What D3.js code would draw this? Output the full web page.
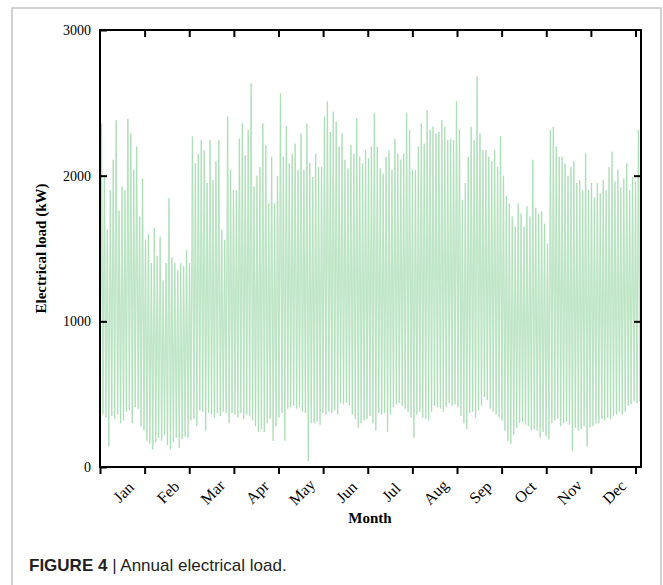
<!DOCTYPE html>
<html>
<head>
<meta charset="utf-8">
<script src="https://cdn.jsdelivr.net/npm/d3@7/dist/d3.min.js"></script>
<style>
  body { margin: 0; background: #fff; }
  svg text { font-family: "Liberation Serif", "Times New Roman", serif; }
</style>
</head>
<body>
<svg id="chart" width="663" height="585"></svg>
<script>
// month names, one per 730 h slot
var months = ["Jan", "Feb", "Mar", "Apr", "May", "Jun", "Jul", "Aug", "Sep", "Oct", "Nov", "Dec"];
var yTicks = [0, 1000, 2000, 3000];

// readings every 2 days (kW): daily peak and night base
var peakLoad = [
  2360, 1990, 1630, 1900, 2110, 2380, 1760, 1925, 1900, 2390, 2290, 2040, 2200, 1720, 1980, 1560,
  1600, 1400, 1640, 1450, 1580, 1280, 1400, 1845, 1440, 1400, 1350, 1400, 1380, 1490, 1400,
  2270, 2085, 2150, 2245, 2175, 1950, 2245, 1970, 2100, 2245, 1630, 1560, 2405, 2040, 1900, 1900,
  2255, 2360, 2140, 2315, 2635, 1925, 2000, 2060, 2360, 2210, 1810, 2130, 1810, 2000, 2565,
  2130, 2340, 2085, 2150, 2220, 2040, 2290, 2040, 2360, 2085, 1990, 2150, 2060, 2060, 2405, 2510,
  2300, 2440, 2370, 2200, 2290, 2110, 2050, 2210, 2150, 2395, 2130, 2085, 2175, 2120, 2200,
  2430, 2200, 2050, 2015, 2130, 2175, 2040, 2255, 2150, 2110, 2150, 2430, 2315, 2040, 2040,
  2200, 2360, 2220, 2450, 2315, 2335, 2290, 2300, 2380, 2335, 2245, 2250, 2245, 2510, 2315,
  1835, 1950, 2130, 2335, 2245, 2680, 2290, 2175, 2175, 2130, 2100, 2175, 2060, 2270, 2000, 1860,
  1810, 1720, 1650, 1810, 1740, 1650, 1790, 1720, 2110, 1780, 1740, 1755, 1670, 1535, 2315,
  2335, 2200, 2130, 2130, 2085, 2000, 2060, 2100, 1950, 1970, 1900, 2155, 1900, 1950, 1850, 1950,
  1880, 1970, 1900, 2060, 2165, 1960, 2040, 1920, 1980, 2085, 1900, 1990, 1960, 2315, 2000
];
var baseLoad = [
  380, 360, 340, 140, 350, 330, 360, 300, 320, 380, 390, 300, 410, 400, 280, 250,
  180, 160, 120, 170, 200, 180, 220, 150, 120, 170, 200, 130, 190, 210, 200,
  320, 330, 280, 390, 380, 250, 370, 360, 340, 370, 350, 380, 370, 300, 370, 360,
  340, 370, 330, 360, 350, 320, 280, 240, 260, 240, 300, 330, 180, 280, 340,
  370, 180, 400, 410, 420, 400, 410, 380, 370, 40, 300, 300, 310, 290, 370, 360,
  380, 370, 390, 360, 440, 430, 440, 420, 360, 330, 270, 300, 320, 330, 350,
  300, 250, 370, 360, 370, 240, 360, 410, 430, 440, 420, 400, 380, 340, 200,
  360, 380, 340, 330, 320, 380, 420, 410, 400, 380, 410, 440, 420, 430, 410,
  350, 300, 260, 370, 380, 340, 390, 420, 480, 460, 400, 380, 360, 340, 320, 250,
  180, 160, 220, 270, 300, 310, 290, 280, 250, 260, 250, 200, 240, 210, 190,
  300, 320, 330, 280, 300, 310, 290, 110, 270, 250, 260, 280, 140, 270, 280, 300,
  300, 330, 320, 340, 330, 350, 360, 380, 360, 380, 420, 430, 450, 440, 450
];

var svg = d3.select("#chart");
var margin = {left: 100, right: 22, top: 30, bottom: 118};
var W = 663, H = 585;

// figure frame
svg.append("rect")
    .attr("x", 12).attr("y", 8)
    .attr("width", 649).attr("height", 620)
    .attr("fill", "none")
    .attr("stroke", "#c4c4c4")
    .attr("stroke-width", 1.5);

var x = d3.scaleLinear().domain([0, 8850]).range([margin.left, W - margin.right]);
var y = d3.scaleLinear().domain([0, 3000]).range([H - margin.bottom, margin.top]);

// zigzag: base -> peak -> base ... one cycle per reading
var pts = [];
peakLoad.forEach(function(p, i) {
  pts.push([i * 48, baseLoad[i]]);
  pts.push([i * 48 + 24, p]);
});

var line = d3.line()
    .x(function(d) { return x(d[0]); })
    .y(function(d) { return y(d[1]); });

// wide pale stroke gives the filled look
svg.append("path")
    .datum(pts)
    .attr("d", line)
    .attr("fill", "none")
    .attr("stroke", "#d5efda")
    .attr("stroke-width", 1.5);

// thin darker stroke on top for the line texture
svg.append("path")
    .datum(pts)
    .attr("d", line)
    .attr("fill", "none")
    .attr("stroke", "#7aca8a")
    .attr("stroke-opacity", 0.55)
    .attr("stroke-width", 0.5);

var monthTicks = d3.range(0, 13).map(function(k) { return k * 730; });

// bottom axis, ticks outside
var gx = svg.append("g")
    .attr("transform", "translate(0," + y(0) + ")")
    .call(d3.axisBottom(x).tickValues(monthTicks).tickSize(7).tickFormat(""));
// top axis, ticks inside
var gt = svg.append("g")
    .attr("transform", "translate(0," + y(3000) + ")")
    .call(d3.axisBottom(x).tickValues(monthTicks.slice(1)).tickSize(7).tickFormat(""));
// left axis, ticks inside
var gy = svg.append("g")
    .attr("transform", "translate(" + x(0) + ",0)")
    .call(d3.axisRight(y).tickValues(yTicks).tickSize(7).tickFormat(""));
// right axis, ticks inside
var gr = svg.append("g")
    .attr("transform", "translate(" + (W - margin.right) + ",0)")
    .call(d3.axisLeft(y).tickValues([1000, 2000]).tickSize(7).tickFormat(""));

[gx, gt, gy, gr].forEach(function(g) {
  g.select(".domain").remove();
  g.selectAll(".tick line").attr("stroke", "#000").attr("stroke-width", 2);
});

// plot box
svg.append("rect")
    .attr("x", x(0)).attr("y", y(3000))
    .attr("width", (W - margin.right) - x(0))
    .attr("height", y(0) - y(3000))
    .attr("fill", "none")
    .attr("stroke", "#000")
    .attr("stroke-width", 2);

// y tick labels
svg.selectAll(".ylab")
    .data(yTicks)
  .enter().append("text")
    .attr("x", x(0) - 9)
    .attr("y", function(d) { return y(d); })
    .attr("dy", "0.35em")
    .attr("text-anchor", "end")
    .style("font-size", "14px")
    .text(function(d) { return d; });

// month labels, rotated, centred in each slot
svg.selectAll(".mlab")
    .data(months)
  .enter().append("text")
    .attr("transform", function(d, i) {
      return "translate(" + (x(i * 730 + 365) + 1) + "," + 492 + ") rotate(-45)";
    })
    .attr("dy", "0.35em")
    .attr("text-anchor", "middle")
    .style("font-size", "16px")
    .text(function(d) { return d; });

svg.append("text")
    .attr("x", 370).attr("y", 523)
    .attr("text-anchor", "middle")
    .style("font-size", "15px")
    .style("font-weight", "bold")
    .text("Month");

svg.append("text")
    .attr("transform", "translate(46," + y(1500) + ") rotate(-90)")
    .attr("text-anchor", "middle")
    .style("font-size", "15px")
    .style("font-weight", "bold")
    .text("Electrical load (kW)");

// caption
var cap = svg.append("text")
    .attr("x", 29).attr("y", 571)
    .style("font-family", "'Liberation Sans', Arial, sans-serif")
    .style("font-size", "17px")
    .attr("fill", "#231f20");
cap.append("tspan").style("font-weight", "bold").text("FIGURE 4");
cap.append("tspan").text(" | Annual electrical load.");
</script>
</body>
</html>
